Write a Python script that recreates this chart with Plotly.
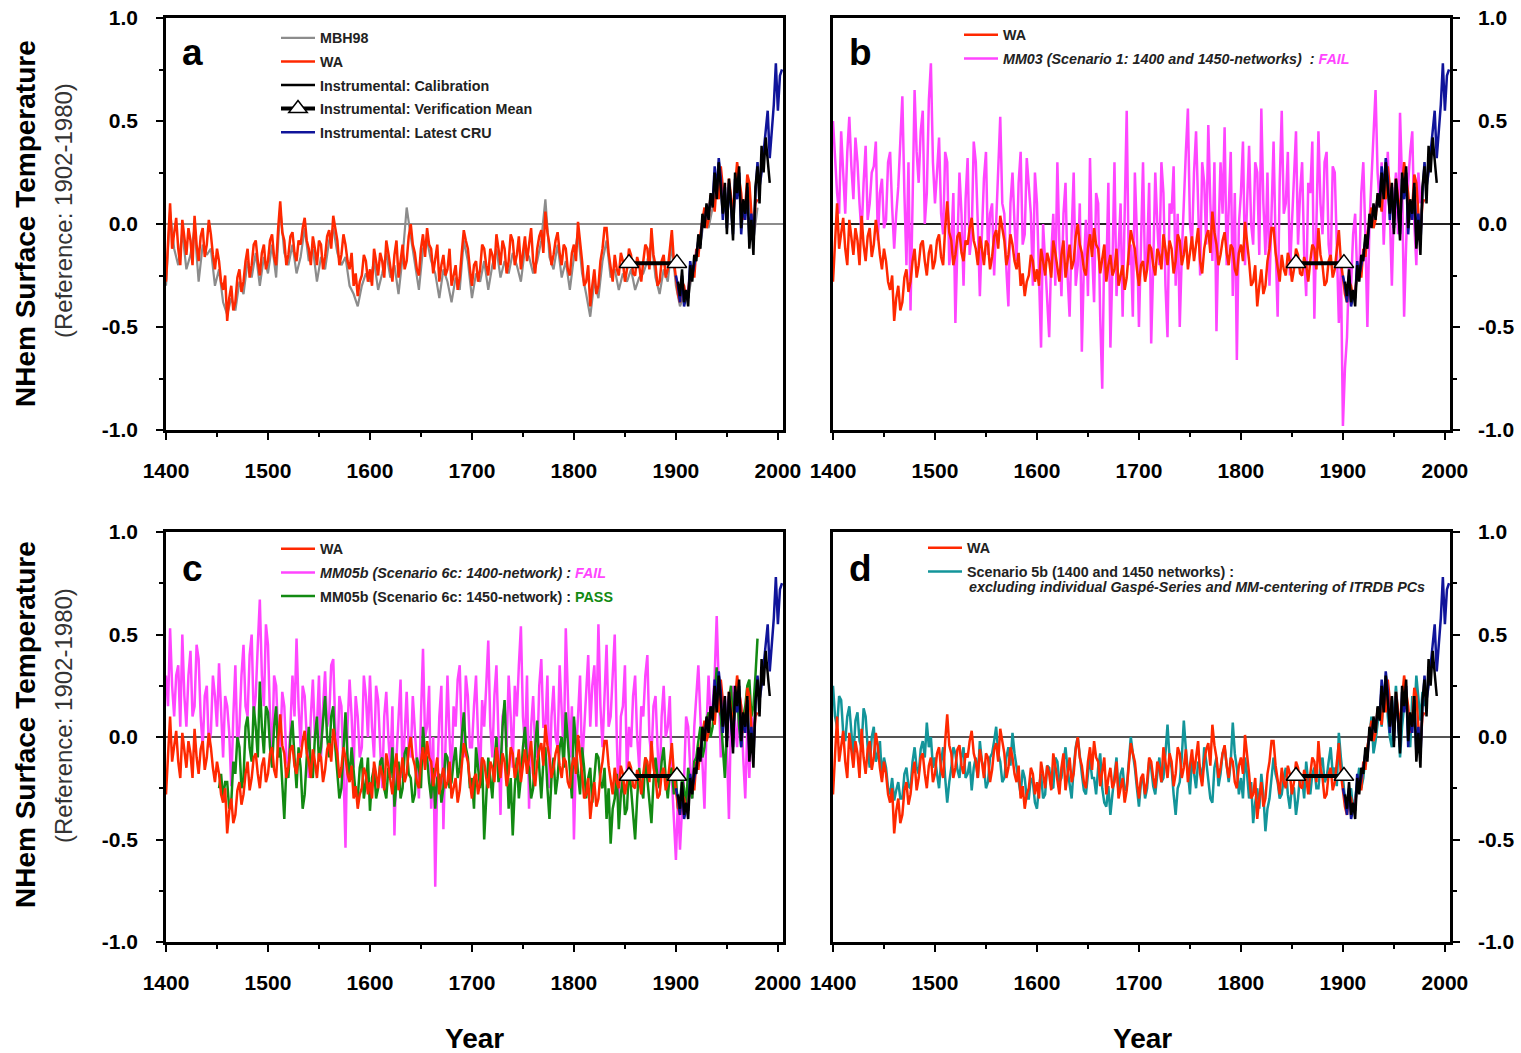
import plotly.graph_objects as go

# ---------------- data ----------------
recon_years = list(range(1400, 1981, 4))      # MBH98 sampling
annual2_years = list(range(1400, 1981, 2))    # 2-yearly sampling of the other reconstructions

wa = [
    -0.28, -0.05, 0.10, -0.12, -0.05, 0.03, -0.12, -0.20, 0.02, -0.08, -0.15, -0.02, -0.08, -0.20, 0.04, -0.10, -0.18, -0.06, -0.02, -0.16, -0.10, 0.02, -0.05, -0.15, -0.22,
    -0.12, -0.18, -0.28, -0.32, -0.25, -0.47, -0.36, -0.30, -0.42, -0.38, -0.26, -0.22, -0.33, -0.28, -0.18, -0.12, -0.26, -0.20, -0.10, -0.08, -0.18, -0.25, -0.14, -0.10, -0.22,
    -0.18, -0.08, -0.05, -0.16, -0.20, -0.02, 0.11, -0.04, -0.08, -0.20, -0.15, -0.06, -0.04, -0.14, -0.18, -0.08, -0.10, -0.02, 0.03, -0.08, -0.12, -0.20, -0.06, -0.12, -0.20,
    -0.08, -0.10, -0.22, -0.16, -0.06, -0.03, -0.12, 0.04, -0.02, -0.08, -0.20, -0.15, -0.05, -0.10, -0.18, -0.22, -0.14, -0.30, -0.24, -0.35, -0.28, -0.25, -0.15, -0.18, -0.28,
    -0.22, -0.30, -0.12, -0.18, -0.25, -0.14, -0.18, -0.26, -0.08, -0.14, -0.20, -0.28, -0.15, -0.08, -0.26, -0.18, -0.10, -0.22, -0.18, -0.06, 0.00, -0.10, -0.14, -0.22, -0.25,
    -0.12, -0.05, -0.16, -0.02, -0.10, -0.12, -0.24, -0.18, -0.10, -0.28, -0.20, -0.15, -0.25, -0.22, -0.12, -0.30, -0.24, -0.20, -0.32, -0.26, -0.14, -0.03, -0.08, -0.12, -0.22,
    -0.30, -0.20, -0.18, -0.28, -0.22, -0.10, -0.12, -0.20, -0.25, -0.12, -0.15, -0.22, -0.05, -0.12, -0.20, -0.08, -0.12, -0.24, -0.18, -0.05, -0.08, -0.20, -0.15, -0.06, -0.22,
    -0.14, -0.06, -0.18, -0.10, -0.02, -0.18, -0.24, -0.12, -0.06, -0.03, -0.14, 0.06, -0.04, -0.10, -0.20, -0.15, -0.08, -0.04, -0.14, -0.20, -0.10, -0.12, -0.22, -0.25, -0.14,
    -0.10, -0.18, 0.01, -0.08, -0.18, -0.30, -0.28, -0.20, -0.40, -0.30, -0.22, -0.34, -0.30, -0.18, -0.12, -0.02, -0.02, -0.14, -0.20, -0.28, -0.15, -0.22, -0.25, -0.14, -0.18,
    -0.28, -0.22, -0.12, -0.15, -0.24, -0.25, -0.16, -0.20, -0.28, -0.18, -0.10, -0.12, -0.22, -0.02, -0.15, -0.20, -0.30, -0.28, -0.18, -0.15, -0.26, -0.22, -0.12, -0.03, -0.18,
    -0.25, -0.34, -0.38, -0.28, -0.30, -0.36, -0.32, -0.24, -0.20, -0.26, -0.12, -0.16, -0.05, 0.02, 0.08, -0.02, 0.02, 0.14, 0.12, 0.06, 0.20, 0.12, 0.28, 0.18, 0.10,
    0.02, 0.22, 0.12, 0.05, 0.18, 0.30, 0.22, 0.15, 0.02, 0.08, 0.24, 0.20, 0.05, -0.05, 0.10, 0.12,
]

mbh98 = [
    -0.30, 0.06, -0.12, -0.20, -0.04, -0.22, -0.15, -0.02, -0.28, -0.10, -0.15, -0.12, -0.30, -0.22, -0.38, -0.44, -0.36, -0.42, -0.28, -0.34, -0.18, -0.26, -0.14, -0.30, -0.16,
    -0.24, -0.10, -0.26, 0.08, -0.14, -0.20, -0.10, -0.24, -0.16, -0.02, -0.18, -0.12, -0.28, -0.16, -0.22, -0.08, -0.02, -0.14, -0.20, -0.16, -0.30, -0.34, -0.40, -0.30, -0.24,
    -0.28, -0.18, -0.32, -0.24, -0.14, -0.26, -0.20, -0.34, -0.16, 0.08, -0.06, -0.20, -0.32, -0.12, -0.08, -0.18, -0.24, -0.36, -0.22, -0.28, -0.38, -0.26, -0.32, -0.08, -0.18,
    -0.36, -0.24, -0.28, -0.18, -0.32, -0.20, -0.12, -0.26, -0.18, -0.24, -0.14, -0.20, -0.28, -0.12, -0.16, -0.24, -0.18, -0.08, 0.12, -0.16, -0.22, -0.10, -0.26, -0.18, -0.32,
    -0.16, -0.04, -0.24, -0.34, -0.45, -0.28, -0.36, -0.18, -0.08, -0.26, -0.22, -0.32, -0.24, -0.28, -0.22, -0.32, -0.26, -0.24, -0.18, -0.08, -0.26, -0.34, -0.22, -0.28, -0.10,
    -0.30, -0.40, -0.34, -0.36, -0.24, -0.16, -0.10, 0.04, -0.02, 0.08, 0.16, 0.24, 0.06, 0.18, 0.02, 0.26, 0.12, 0.04, 0.16, -0.08, 0.08,
]

mm03 = [  # 1400-1976
    0.50, 0.30, 0.15, 0.05, 0.45, 0.25, 0.05, 0.35, 0.52, 0.28, 0.12, 0.42, 0.30, 0.10, -0.05, 0.20, 0.38, 0.02, 0.10, 0.25, 0.28, 0.40, -0.08, 0.15, 0.22,
    -0.02, 0.02, 0.30, 0.35, 0.08, -0.12, 0.05, 0.18, 0.40, 0.62, 0.15, -0.20, 0.30, -0.42, 0.10, 0.65, 0.35, 0.20, 0.45, 0.55, 0.00, 0.15, 0.60, 0.78, 0.30,
    0.10, 0.25, 0.42, 0.05, -0.05, 0.35, 0.30, -0.20, -0.10, 0.15, -0.48, -0.10, 0.25, 0.05, -0.30, 0.12, 0.32, -0.15, -0.05, 0.40, 0.30, 0.00, -0.35, -0.05, 0.22,
    0.35, -0.15, 0.05, 0.10, -0.25, -0.02, 0.28, 0.52, 0.10, 0.05, -0.22, -0.40, 0.10, 0.25, 0.00, -0.18, 0.20, 0.35, -0.10, -0.05, 0.32, 0.18, 0.05, -0.30, 0.25,
    0.10, -0.30, -0.60, 0.00, -0.20, -0.40, -0.55, -0.15, 0.05, -0.30, 0.30, -0.10, -0.35, 0.05, 0.20, -0.25, -0.45, -0.05, 0.25, -0.30, -0.20, 0.10, -0.62, -0.20, 0.02,
    -0.35, 0.32, -0.12, -0.38, 0.15, 0.10, -0.45, -0.80, -0.10, -0.25, 0.20, -0.60, -0.20, 0.30, -0.35, -0.15, 0.10, -0.45, 0.05, 0.55, -0.20, -0.10, -0.45, 0.25, -0.05,
    -0.50, -0.10, 0.30, -0.25, -0.15, 0.20, -0.58, -0.20, 0.25, 0.00, -0.20, 0.30, 0.15, -0.30, -0.55, 0.10, 0.05, 0.28, -0.30, 0.05, -0.50, -0.15, 0.12, 0.35, 0.56,
    0.00, -0.10, 0.25, 0.45, 0.05, -0.25, 0.30, 0.20, -0.10, 0.48, 0.10, -0.18, 0.30, -0.52, -0.05, 0.30, 0.05, 0.47, -0.20, 0.05, 0.35, -0.35, 0.15, -0.66, 0.00,
    0.15, 0.40, -0.20, 0.05, 0.38, 0.00, -0.10, 0.30, 0.25, -0.15, 0.56, 0.10, -0.15, 0.25, -0.30, 0.05, 0.40, -0.10, -0.45, 0.20, 0.55, 0.05, 0.10, 0.35, -0.25,
    0.00, 0.25, 0.45, -0.10, 0.15, 0.30, -0.15, -0.35, 0.20, 0.15, 0.40, -0.46, -0.05, 0.45, 0.10, -0.05, 0.30, 0.35, -0.10, -0.20, 0.28, 0.25, -0.10, -0.48, -0.20,
    -0.98, -0.70, -0.55, -0.20, -0.30, -0.05, 0.05, -0.25, -0.25, 0.15, 0.30, -0.05, -0.50, 0.00, 0.20, 0.40, 0.65, 0.25, 0.10, 0.30, -0.10, 0.15, 0.35, 0.05, -0.30,
    0.10, 0.25, -0.05, 0.54, 0.20, -0.45, -0.10, 0.20, 0.35, 0.45, 0.00, -0.20, 0.25, 0.10,
]

mm05b_1400 = [  # 1400-1976
    0.30, 0.15, 0.53, 0.25, 0.10, 0.30, 0.35, 0.05, 0.50, 0.20, 0.05, 0.30, 0.42, 0.10, 0.15, 0.45, 0.38, 0.10, -0.05, 0.20, 0.25, -0.05, 0.02, 0.30, 0.20,
    0.05, 0.36, 0.10, -0.10, 0.20, 0.15, 0.02, -0.24, 0.10, 0.35, -0.05, 0.05, 0.30, 0.45, 0.15, 0.10, 0.40, 0.50, 0.10, 0.20, 0.45, 0.67, 0.30, 0.15, 0.55,
    0.45, 0.10, -0.10, 0.30, 0.25, 0.00, -0.05, 0.22, 0.15, -0.10, -0.15, 0.05, 0.30, 0.10, 0.48, 0.15, -0.05, 0.25, 0.20, 0.00, -0.20, 0.10, 0.28, 0.00, 0.05,
    0.30, -0.10, 0.15, 0.32, 0.05, 0.10, 0.35, 0.38, 0.05, -0.12, 0.20, 0.15, -0.15, -0.54, 0.05, 0.28, 0.10, -0.15, 0.20, 0.10, -0.10, -0.05, 0.30, 0.20, 0.00,
    0.30, 0.05, -0.10, 0.25, 0.18, -0.05, -0.25, 0.10, 0.22, 0.00, -0.15, 0.15, -0.48, -0.10, 0.10, 0.28, -0.20, 0.05, 0.22, -0.05, -0.10, 0.20, 0.05, -0.15, -0.30,
    0.10, 0.43, 0.00, 0.05, 0.25, -0.35, 0.00, -0.73, -0.20, 0.10, 0.25, -0.45, -0.05, 0.30, 0.00, -0.20, 0.15, 0.05, 0.28, 0.35, 0.00, -0.10, 0.30, 0.20, -0.05,
    -0.05, 0.15, 0.30, 0.00, -0.20, 0.18, 0.05, 0.25, 0.47, 0.05, -0.10, 0.20, 0.35, 0.00, -0.38, 0.10, 0.15, -0.05, 0.30, 0.10, -0.15, 0.25, 0.10, 0.35, 0.54,
    0.10, -0.05, 0.30, -0.35, 0.05, 0.20, -0.05, -0.10, 0.25, 0.38, 0.05, 0.05, 0.30, -0.25, 0.10, 0.25, 0.00, -0.05, 0.35, 0.15, -0.10, 0.53, 0.20, -0.10, 0.15,
    -0.50, -0.10, 0.10, 0.30, -0.15, 0.05, 0.20, 0.40, 0.05, 0.25, 0.35, 0.05, 0.55, 0.15, -0.05, 0.25, 0.45, 0.05, 0.10, 0.30, 0.50, 0.00, -0.35, 0.10, 0.15,
    0.35, -0.20, 0.05, -0.05, 0.20, 0.30, 0.00, -0.15, 0.15, 0.10, 0.30, 0.40, 0.00, -0.10, 0.15, 0.20, -0.05, -0.25, 0.10, 0.25, 0.00, 0.05, 0.20, -0.20, -0.40,
    -0.60, -0.30, -0.55, -0.35, -0.20, 0.10, 0.05, -0.15, -0.30, 0.05, 0.20, 0.35, 0.10, -0.10, -0.35, 0.05, 0.30, 0.10, 0.15, 0.30, 0.59, 0.25, -0.10, 0.15, 0.20,
    -0.05, -0.40, 0.10, 0.25, 0.05, -0.05, 0.22, 0.15, -0.10, -0.30, 0.05, -0.20, 0.10, 0.05,
]

mm05b_1450_start = 1452
mm05b_1450 = [  # 1452-1980
    -0.25, -0.18, -0.30, -0.22, -0.22, -0.35, -0.32, -0.12, -0.18, 0.00, -0.05, -0.25, -0.20, 0.05, 0.10, -0.05, -0.12, 0.15, 0.05, -0.10, 0.27, 0.05, -0.08, 0.15,
    0.12, -0.05, -0.15, 0.05, 0.15, -0.10, -0.05, -0.25, -0.40, -0.15, -0.20, 0.00, 0.08, -0.10, -0.25, -0.05, -0.15, -0.35, -0.28, -0.10, 0.05, -0.15, -0.20, 0.00, 0.10,
    -0.12, -0.05, 0.08, 0.20, 0.00, -0.10, 0.10, 0.15, -0.05, -0.18, -0.30, -0.25, -0.05, 0.12, -0.10, -0.20, -0.05, -0.15, -0.28, -0.30, -0.15, -0.10, -0.30, -0.22, -0.10,
    -0.36, -0.20, -0.15, -0.30, -0.25, -0.12, -0.10, -0.25, -0.30, -0.15, -0.20, -0.05, -0.34, -0.22, -0.12, -0.30, -0.25, -0.08, -0.05, -0.18, -0.20, -0.32, -0.28, -0.10, -0.15,
    -0.25, 0.05, -0.08, -0.10, -0.22, -0.30, -0.15, -0.35, -0.20, -0.18, -0.32, -0.25, -0.08, -0.10, -0.25, -0.22, -0.12, -0.05, -0.20, -0.15, 0.00, 0.12, -0.05, -0.10, -0.25,
    -0.20, -0.35, -0.05, -0.15, -0.25, -0.10, -0.50, -0.30, -0.10, -0.20, -0.30, -0.12, 0.00, -0.22, -0.15, 0.05, 0.18, -0.10, -0.35, -0.20, -0.48, -0.25, -0.10, -0.30, -0.20,
    -0.05, 0.05, -0.12, -0.15, -0.30, -0.25, -0.05, 0.08, -0.15, -0.30, -0.12, -0.05, -0.25, -0.40, -0.20, -0.10, -0.28, -0.20, -0.05, 0.00, -0.15, 0.12, -0.02, -0.15, -0.30,
    0.10, -0.05, -0.18, -0.28, -0.05, -0.15, -0.30, -0.20, -0.15, -0.32, -0.20, -0.08, -0.10, -0.22, -0.25, -0.15, -0.40, -0.25, -0.52, -0.35, -0.30, -0.18, -0.45, -0.28, -0.20,
    -0.38, -0.35, -0.15, -0.25, -0.40, -0.50, -0.30, -0.15, -0.25, -0.30, -0.10, -0.20, -0.32, -0.42, -0.22, -0.10, -0.20, -0.25, -0.12, -0.05, -0.20, -0.30, -0.18, -0.15, -0.28,
    -0.20, -0.35, -0.32, -0.20, -0.25, -0.35, -0.15, -0.22, -0.30, -0.12, -0.10, -0.02, 0.05, -0.10, -0.05, 0.08, 0.12, 0.00, 0.05, 0.20, 0.34, 0.15, 0.10, -0.05, -0.20,
    0.05, 0.18, 0.25, 0.05, 0.12, 0.22, 0.05, -0.05, 0.10, 0.15, 0.25, 0.28, 0.10, 0.15, 0.30, 0.48,
]

scen5b = [  # 1400-1980
    0.25, 0.10, 0.05, 0.20, 0.18, 0.02, -0.02, 0.10, 0.15, 0.00, -0.10, 0.08, 0.12, -0.02, -0.05, 0.14, 0.10, -0.05, -0.15, 0.00, 0.05, -0.12, -0.08, -0.02, -0.20,
    -0.10, -0.15, -0.25, -0.28, -0.20, -0.31, -0.26, -0.22, -0.30, -0.30, -0.18, -0.15, -0.24, -0.25, -0.12, -0.05, -0.15, -0.18, -0.06, -0.02, -0.10, 0.07, -0.05, 0.00, -0.15,
    -0.10, -0.18, -0.25, -0.12, -0.05, -0.20, -0.32, -0.22, -0.15, -0.05, -0.08, -0.16, -0.20, -0.10, -0.05, -0.20, -0.18, -0.12, -0.26, -0.15, -0.10, -0.20, -0.02, -0.12, -0.15,
    -0.25, -0.22, -0.10, -0.08, -0.02, 0.05, -0.08, -0.12, -0.22, -0.20, -0.10, -0.05, -0.14, 0.02, -0.08, -0.15, -0.22, -0.28, -0.16, -0.20, -0.30, -0.30, -0.20, -0.22, -0.32,
    -0.35, -0.24, -0.18, -0.30, -0.28, -0.14, -0.15, -0.24, -0.25, -0.10, -0.12, -0.22, -0.20, -0.12, -0.05, -0.16, -0.22, -0.30, -0.15, -0.05, 0.00, -0.10, -0.18, -0.26, -0.28,
    -0.18, -0.10, -0.20, -0.20, -0.28, -0.15, -0.08, -0.25, -0.32, -0.34, -0.24, -0.38, -0.28, -0.20, -0.10, -0.28, -0.18, -0.15, -0.26, -0.25, -0.10, 0.00, -0.08, -0.15, -0.25,
    -0.34, -0.22, -0.20, -0.30, -0.25, -0.12, -0.15, -0.24, -0.28, -0.18, -0.10, -0.22, -0.20, -0.08, 0.06, -0.10, -0.15, -0.28, -0.38, -0.25, -0.22, -0.10, 0.08, -0.06, -0.18,
    -0.28, -0.10, -0.18, -0.25, -0.12, -0.15, -0.22, -0.05, -0.12, -0.20, -0.30, -0.32, -0.15, -0.10, -0.24, -0.18, -0.08, -0.05, -0.15, -0.22, -0.12, 0.07, -0.08, -0.15, -0.28,
    -0.20, -0.30, -0.10, -0.18, -0.30, -0.22, -0.42, -0.32, -0.25, -0.35, -0.18, -0.28, -0.46, -0.35, -0.30, -0.20, -0.10, -0.18, -0.22, -0.30, -0.28, -0.20, -0.15, -0.28, -0.35,
    -0.24, -0.25, -0.38, -0.30, -0.18, -0.20, -0.30, -0.12, -0.22, -0.28, -0.18, -0.15, -0.25, -0.25, -0.14, -0.10, -0.22, -0.20, -0.12, -0.05, -0.18, -0.15, -0.24, 0.02, -0.10,
    -0.20, -0.30, -0.35, -0.28, -0.25, -0.36, -0.30, -0.22, -0.15, -0.25, -0.20, -0.10, -0.05, 0.00, 0.10, -0.08, -0.02, 0.08, 0.15, 0.05, 0.20, 0.28, 0.10, 0.00, -0.05,
    0.12, 0.25, 0.10, -0.10, 0.05, 0.15, 0.20, 0.05, -0.05, 0.20, 0.10, 0.30, 0.18, 0.08, 0.22, 0.15,
]

calib_years = list(range(1902, 1993, 2))
calib = [
    -0.28, -0.35, -0.22, -0.38, -0.32, -0.40, -0.20, -0.28, -0.15, -0.18, -0.05, -0.12, 0.05, -0.02, 0.10, 0.02,
    0.15, 0.08, 0.25, 0.12, 0.30, 0.18, 0.05, 0.20, -0.05, 0.22, 0.10, -0.08, 0.25, 0.15, 0.28, -0.02,
    0.12, 0.05, 0.20, -0.12, 0.02, -0.15, 0.18, 0.28, 0.10, 0.38, 0.25, 0.42, 0.30, 0.20,
]

cru_years = list(range(1900, 2005, 2))
cru = [
    -0.25, -0.30, -0.38, -0.25, -0.40, -0.35, -0.36, -0.18, -0.25, -0.20, -0.15, -0.08, -0.10, 0.02, 0.00, 0.08, 0.05, 0.12,
    0.10, 0.28, 0.15, 0.32, 0.22, 0.02, 0.18, -0.02, 0.20, 0.08, -0.05, 0.22, 0.12, 0.25, -0.05, 0.10, 0.02, 0.18,
    -0.08, 0.05, -0.10, 0.15, 0.30, 0.18, 0.25, 0.35, 0.45, 0.55, 0.32, 0.45, 0.58, 0.78, 0.55, 0.72, 0.75,
]

ver_years = [1854, 1901]
ver_mean = [-0.19, -0.19]

x_ticks = [1400, 1500, 1600, 1700, 1800, 1900, 2000]
y_ticks = [-1.0, -0.5, 0.0, 0.5, 1.0]
y_ticktext = ["-1.0", "-0.5", "0.0", "0.5", "1.0"]

# ---------------- styling ----------------
FONT = "Liberation Sans"
C_WA = "#ff2800"
C_MBH = "#8c8c8c"
C_MAG = "#ff45ff"
C_GREEN = "#128a12"
C_TEAL = "#13959a"
C_BLUE = "#10149a"
C_BLACK = "#000000"
LW = 2.5

fig = go.Figure()


def yrs(series, start=1400):
    i0 = annual2_years.index(start)
    return annual2_years[i0:i0 + len(series)]


def line(x, y, color, name, ax, legend, rank, width=LW, show=True):
    fig.add_trace(go.Scatter(
        x=x, y=y, mode="lines", name=name,
        line=dict(color=color, width=width),
        xaxis=ax[0], yaxis=ax[1], legend=legend, legendrank=rank,
        legendgroup=name + legend, showlegend=show,
    ))


def instrumental(ax, legend, show_all):
    line(cru_years, cru, C_BLUE, "Instrumental: Latest CRU", ax, legend, 5, show=show_all)
    line(calib_years, calib, C_BLACK, "Instrumental: Calibration", ax, legend, 3, show=show_all)
    fig.add_trace(go.Scatter(
        x=ver_years, y=ver_mean, mode="lines+markers",
        name="Instrumental: Verification Mean",
        line=dict(color="black", width=4),
        marker=dict(symbol="triangle-up", size=17, color="white",
                    line=dict(color="black", width=1.5)),
        xaxis=ax[0], yaxis=ax[1], legend=legend, legendrank=4,
        legendgroup="ver" + legend, showlegend=show_all,
    ))


# panel a
ax = ("x", "y")
line(recon_years, mbh98, C_MBH, "MBH98", ax, "legend", 1, width=2.2)
line(yrs(wa), wa, C_WA, "WA", ax, "legend", 2)
instrumental(ax, "legend", True)

# panel b
ax = ("x2", "y2")
line(yrs(mm03), mm03, C_MAG,
     "<i>MM03 (Scenario 1: 1400 and 1450-networks)  : </i><span style='color:#ff45ff'><i>FAIL</i></span>",
     ax, "legend2", 2)
line(yrs(wa), wa, C_WA, "WA", ax, "legend2", 1)
instrumental(ax, "legend2", False)

# panel c
ax = ("x3", "y3")
line(yrs(mm05b_1400), mm05b_1400, C_MAG,
     "<i>MM05b (Scenario 6c: 1400-network) : </i><span style='color:#ff45ff'><i>FAIL</i></span>",
     ax, "legend3", 2)
line(yrs(mm05b_1450, mm05b_1450_start), mm05b_1450, C_GREEN,
     "MM05b (Scenario 6c: 1450-network) : <span style='color:#128a12'>PASS</span>",
     ax, "legend3", 3)
line(yrs(wa), wa, C_WA, "WA", ax, "legend3", 1)
instrumental(ax, "legend3", False)

# panel d
ax = ("x4", "y4")
line(yrs(scen5b), scen5b, C_TEAL, "Scenario 5b (1400 and 1450 networks) :", ax, "legend4", 2)
line(yrs(wa), wa, C_WA, "WA", ax, "legend4", 1)
instrumental(ax, "legend4", False)

W, H = 1521, 1053
dom_x_left = [166 / W, 783 / W]
dom_x_right = [833 / W, 1450 / W]
dom_y_top = [1 - 430 / H, 1 - 18 / H]
dom_y_bot = [1 - 942 / H, 1 - 532 / H]

tickfont = dict(family=FONT, size=21, color="black", weight="bold")


def xaxis(domain, anchor):
    return dict(
        domain=domain, anchor=anchor, range=[1400, 2005],
        tickmode="array", tickvals=x_ticks,
        ticks="outside", ticklen=7, tickwidth=2, tickcolor="black",
        minor=dict(tickmode="array", tickvals=[1450, 1550, 1650, 1750, 1850, 1950],
                   ticks="outside", ticklen=4, tickwidth=1.5, tickcolor="black"),
        showline=True, linewidth=2.5, linecolor="black", mirror=True,
        showgrid=False, zeroline=False, tickfont=tickfont, ticklabelstandoff=13,
    )


def yaxis(domain, anchor, side, zcolor):
    return dict(
        domain=domain, anchor=anchor, range=[-1, 1], side=side,
        tickmode="array", tickvals=y_ticks, ticktext=y_ticktext,
        ticks="outside", ticklen=7, tickwidth=2, tickcolor="black",
        minor=dict(tickmode="array", tickvals=[-0.75, -0.25, 0.25, 0.75],
                   ticks="outside", ticklen=4, tickwidth=1.5, tickcolor="black"),
        showline=True, linewidth=2.5, linecolor="black", mirror=True,
        showgrid=False, zeroline=True, zerolinecolor=zcolor, zerolinewidth=1.5,
        tickfont=tickfont, ticklabelstandoff=14,
    )


LEG_SIZE = 14.3
legfont = dict(family=FONT, size=LEG_SIZE, color="#222222", weight="bold")


def legend(xpx, ypx):
    return dict(x=xpx / W, y=1 - ypx / H, xanchor="left", yanchor="top",
                bgcolor="rgba(0,0,0,0)", font=legfont, tracegroupgap=2,
                itemwidth=34, traceorder="grouped", itemclick=False)


annotations = []
for letter, (px, py) in {"a": (192, 52), "b": (860, 52), "c": (192, 568), "d": (860, 568)}.items():
    annotations.append(dict(text=letter, x=px / W, y=1 - py / H, xref="paper", yref="paper",
                            xanchor="center", yanchor="middle",
                            showarrow=False, font=dict(family=FONT, size=37, color="black", weight="bold")))
for cy in (224, 725):
    annotations.append(dict(text="NHem Surface Temperature", x=25 / W, y=1 - cy / H,
                            xref="paper", yref="paper", xanchor="center", yanchor="middle",
                            showarrow=False, textangle=-90,
                            font=dict(family=FONT, size=28, color="black", weight="bold")))
for cy in (211, 716):
    annotations.append(dict(text="(Reference: 1902-1980)", x=63 / W, y=1 - cy / H,
                            xref="paper", yref="paper", xanchor="center", yanchor="middle",
                            showarrow=False, textangle=-90,
                            font=dict(family=FONT, size=24, color="#333333")))
for cx in (474, 1142):
    annotations.append(dict(text="Year", x=cx / W, y=1 - 1038 / H, xref="paper", yref="paper",
                            xanchor="center", yanchor="middle",
                            showarrow=False, font=dict(family=FONT, size=28, color="black", weight="bold")))
# second line of the panel-d legend entry
annotations.append(dict(text="<i>excluding individual Gaspé-Series and MM-centering of ITRDB PCs</i>",
                        x=967 / W, y=1 - 587 / H, xref="paper", yref="paper",
                        xanchor="left", yanchor="middle", showarrow=False, font=legfont))

fig.update_layout(
    width=W, height=H, margin=dict(l=0, r=0, t=0, b=0, autoexpand=False),
    paper_bgcolor="white", plot_bgcolor="white",
    xaxis=xaxis(dom_x_left, "y"),
    yaxis=yaxis(dom_y_top, "x", "left", "#8c8c8c"),
    xaxis2=xaxis(dom_x_right, "y2"),
    yaxis2=yaxis(dom_y_top, "x2", "right", "#222222"),
    xaxis3=xaxis(dom_x_left, "y3"),
    yaxis3=yaxis(dom_y_bot, "x3", "left", "#555555"),
    xaxis4=xaxis(dom_x_right, "y4"),
    yaxis4=yaxis(dom_y_bot, "x4", "right", "#555555"),
    legend=legend(276, 22),
    legend2=legend(959, 19),
    legend3=legend(276, 533),
    legend4=legend(923, 532),
    annotations=annotations,
    showlegend=True,
)

fig.write_html("out.html")
